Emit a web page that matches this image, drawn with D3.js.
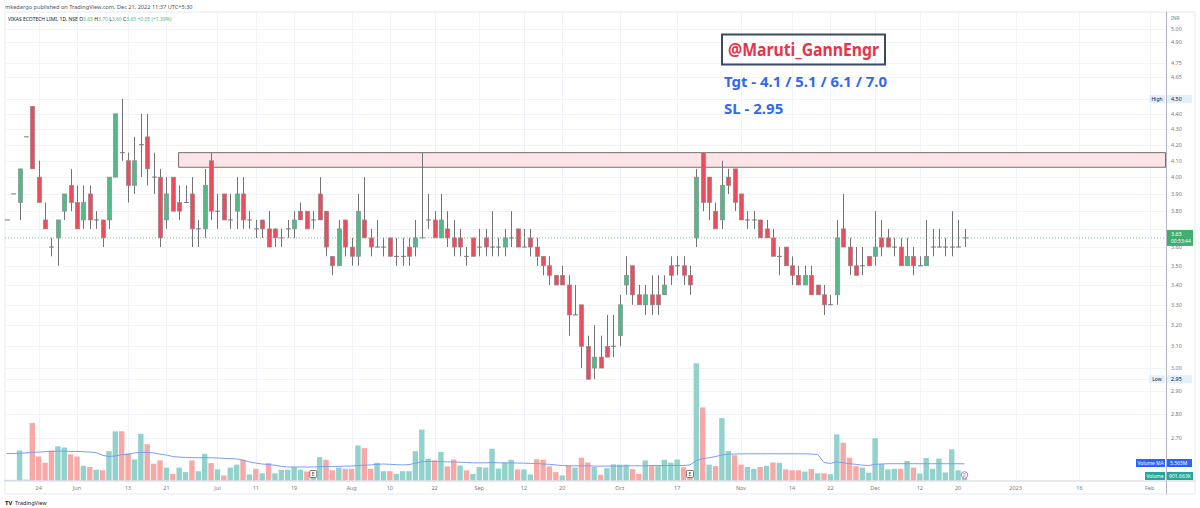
<!DOCTYPE html>
<html>
<head>
<meta charset="utf-8">
<script src="https://cdn.jsdelivr.net/npm/d3@7"></script>
<style>
  body { margin: 0; background: #fff; }
  svg { display: block; font-family: "Noto Sans", "DejaVu Sans", sans-serif; }
</style>
</head>
<body>
<svg id="chart" width="1200" height="508"></svg>
<script>
// ---- data (daily bars, NSE, 17 May 2022 .. 21 Dec 2022) ----
const opens = [3.75,3.90,3.85,4.25,4.45,4.00,3.75,3.60,3.65,3.80, 3.95,3.85,3.75,3.90,3.75,3.75,3.75,4.00,4.15,4.10,
  3.95,4.20,4.25,4.00,4.00,3.75,4.00,3.85,3.85,3.90, 3.70,3.70,4.10,3.80,3.90,3.75,3.80,3.90,3.75,3.70,
  3.75,3.70,3.70,3.65,3.70,3.70,3.80,3.80,3.75,3.90, 3.80,3.55,3.50,3.75,3.60,3.55,3.75,3.65,3.60,3.60,
  3.65,3.55,3.55,3.60,3.60,3.65,3.75,3.75,3.65,3.70, 3.65,3.65,3.55,3.65,3.60,3.65,3.60,3.60,3.60,3.65,
  3.70,3.60,3.65,3.60,3.55,3.50,3.45,3.45,3.40,3.25, 3.30,3.10,3.00,3.05,3.10,3.10,3.15,3.40,3.50,3.35,
  3.30,3.35,3.35,3.35,3.50,3.50,3.50,3.45,3.65,4.15, 4.00,3.80,3.75,4.00,4.05,3.90,3.75,3.75,3.75,3.70,
  3.65,3.55,3.60,3.50,3.45,3.40,3.45,3.40,3.35,3.30, 3.35,3.70,3.60,3.50,3.50,3.55,3.55,3.65,3.65,3.60,
  3.60,3.50,3.55,3.50,3.50,3.60,3.60,3.60,3.60,3.60, 3.65];
const highs = [3.75,3.90,4.05,4.25,4.45,4.10,3.85,3.65,3.75,3.90, 4.05,3.95,3.95,3.95,3.80,3.75,4.00,4.40,4.50,4.15,
  4.25,4.40,4.40,4.15,4.05,4.00,4.00,3.95,3.95,4.00, 3.75,4.05,4.15,3.90,3.90,3.90,4.00,4.00,3.80,3.75,
  3.75,3.80,3.70,3.70,3.75,3.80,3.85,3.80,3.80,4.00, 3.80,3.55,3.75,3.75,3.65,3.90,4.00,3.70,3.75,3.65,
  3.65,3.65,3.65,3.65,3.75,4.15,3.90,3.80,3.90,3.80, 3.75,3.70,3.60,3.65,3.70,3.70,3.80,3.65,3.70,3.80,
  3.70,3.70,3.70,3.65,3.55,3.55,3.45,3.50,3.45,3.40, 3.30,3.15,3.20,3.15,3.25,3.25,3.35,3.55,3.50,3.40,
  3.40,3.45,3.45,3.45,3.55,3.55,3.55,3.50,4.05,4.15, 4.00,3.85,4.10,4.05,4.05,3.90,3.80,3.80,3.75,3.75,
  3.70,3.60,3.60,3.55,3.50,3.50,3.50,3.40,3.40,3.35, 3.75,3.90,3.65,3.60,3.60,3.55,3.80,3.75,3.70,3.65,
  3.65,3.65,3.60,3.55,3.75,3.70,3.70,3.65,3.80,3.75, 3.70];
const lows = [3.75,3.90,3.75,4.25,4.05,3.85,3.70,3.55,3.50,3.75, 3.80,3.70,3.70,3.70,3.70,3.60,3.70,4.00,4.10,3.85,
  3.90,4.00,3.95,3.90,3.60,3.70,3.80,3.75,3.85,3.60, 3.60,3.65,3.75,3.70,3.75,3.70,3.70,3.70,3.70,3.65,
  3.65,3.60,3.60,3.60,3.65,3.65,3.75,3.70,3.70,3.75, 3.55,3.45,3.50,3.55,3.50,3.50,3.65,3.55,3.60,3.55,
  3.55,3.50,3.50,3.50,3.55,3.65,3.70,3.65,3.65,3.60, 3.55,3.55,3.50,3.55,3.55,3.55,3.55,3.55,3.55,3.60,
  3.60,3.60,3.55,3.50,3.45,3.40,3.40,3.40,3.15,3.25, 3.00,2.95,2.95,3.00,3.05,3.05,3.10,3.35,3.30,3.30,
  3.25,3.25,3.25,3.35,3.40,3.45,3.40,3.35,3.60,3.80, 3.75,3.70,3.70,3.90,3.80,3.75,3.70,3.70,3.65,3.65,
  3.55,3.45,3.50,3.40,3.40,3.40,3.35,3.35,3.25,3.30, 3.30,3.60,3.45,3.45,3.45,3.50,3.50,3.55,3.60,3.55,
  3.50,3.50,3.45,3.50,3.50,3.55,3.60,3.55,3.55,3.60, 3.60];
const closes = [3.75,3.90,4.05,4.25,4.05,3.85,3.70,3.60,3.75,3.90, 3.85,3.70,3.85,3.75,3.75,3.65,4.00,4.40,4.15,3.95,
  4.10,4.20,4.05,4.00,3.65,3.90,3.80,3.80,3.85,3.70, 3.70,3.95,3.80,3.80,3.75,3.75,3.90,3.75,3.75,3.70,
  3.70,3.60,3.65,3.65,3.70,3.75,3.75,3.70,3.75,3.75, 3.60,3.50,3.70,3.60,3.55,3.80,3.65,3.60,3.60,3.60,
  3.55,3.55,3.55,3.55,3.65,3.65,3.75,3.65,3.75,3.65, 3.60,3.60,3.55,3.55,3.60,3.60,3.60,3.60,3.65,3.65,
  3.60,3.60,3.60,3.55,3.50,3.45,3.40,3.40,3.25,3.25, 3.10,2.95,3.05,3.00,3.05,3.10,3.30,3.45,3.35,3.30,
  3.35,3.30,3.30,3.40,3.45,3.50,3.45,3.40,4.00,3.85, 3.85,3.70,3.95,3.95,3.85,3.75,3.75,3.75,3.65,3.65,
  3.55,3.55,3.50,3.45,3.40,3.45,3.35,3.35,3.30,3.30, 3.65,3.60,3.50,3.45,3.50,3.50,3.60,3.60,3.60,3.60,
  3.50,3.55,3.50,3.50,3.55,3.60,3.60,3.60,3.60,3.60, 3.65];
// volume in millions of shares
const volumes = [0.2,0.2,10.0,0.3,19.2,8.0,5.9,10.0,11.4,11.0, 8.7,8.0,4.9,4.5,3.6,3.4,9.8,16.4,16.4,9.1,
  7.0,15.6,12.1,5.6,6.7,4.3,2.2,4.3,2.8,6.7, 3.1,8.9,5.8,3.7,1.7,4.3,5.3,6.9,2.0,3.9,
  2.4,5.8,2.4,3.6,3.6,4.5,3.6,3.0,2.7,7.8, 6.9,3.4,4.3,3.9,3.9,11.7,10.8,3.9,5.9,3.1,
  3.1,2.2,3.1,3.1,9.8,17.0,7.3,6.7,9.5,4.7, 7.0,5.0,3.4,2.2,4.5,4.3,10.6,4.0,5.9,6.9,
  3.7,3.7,2.0,7.1,6.9,4.7,2.8,1.7,5.0,4.3, 7.6,6.0,4.5,1.9,4.1,5.4,5.3,5.3,3.8,2.2,
  6.7,4.9,4.8,6.9,5.9,7.0,4.4,3.0,39.1,24.4, 5.3,4.8,20.8,9.8,8.4,5.3,4.5,3.9,4.5,4.9,
  6.0,5.9,3.7,3.4,3.4,3.0,3.8,2.4,2.4,2.1, 15.4,12.6,7.6,4.8,4.3,2.6,14.1,5.6,3.7,3.9,
  3.9,6.5,4.3,2.3,7.5,3.9,7.3,2.7,10.4,3.4, 0.9];
const volumeMA = [9.0,9.0,9.1,9.2,9.4,9.5,9.6,9.7,9.8,9.8, 9.7,9.7,9.6,9.5,9.3,8.4,8.0,8.2,8.6,8.7,
  9.2,9.4,9.4,9.2,8.8,8.5,8.0,7.8,7.7,7.6, 7.6,7.6,7.6,7.5,7.4,7.3,7.2,6.8,6.2,5.8,
  5.5,5.3,5.1,4.7,4.5,4.5,4.5,4.5,4.5,4.6, 4.7,4.7,4.7,4.8,4.8,5.0,5.1,5.2,5.4,5.5,
  5.4,5.3,5.2,5.3,5.8,6.2,6.4,6.4,6.3,6.2, 6.2,6.1,6.0,5.9,5.9,5.9,6.0,5.9,5.9,5.9,
  5.8,5.8,5.7,5.7,5.5,5.4,5.2,5.0,4.9,4.9, 4.9,4.9,4.8,4.8,4.8,4.8,4.8,4.9,4.9,4.9,
  4.9,5.0,5.0,5.0,5.0,5.0,5.0,5.2,6.6,7.3, 7.6,8.0,8.5,8.8,8.8,8.9,8.9,8.9,8.9,8.9,
  8.9,8.9,8.9,8.9,8.9,8.9,8.8,8.7,6.0,5.7, 6.2,5.9,5.6,5.4,5.1,5.0,5.4,5.5,5.6,5.6,
  5.6,5.6,5.6,5.6,5.6,5.6,5.6,5.6,5.6,5.6, 5.565];

const priceTicks = [5.00, 4.90, 4.75, 4.65, 4.40, 4.30, 4.20, 4.10, 4.00, 3.90, 3.80, 3.60,
  3.50, 3.40, 3.30, 3.20, 3.10, 3.00, 2.90, 2.80, 2.70];
const timeTickIndex = [5, 11, 19, 25, 33, 39, 45, 54, 60, 67, 74, 81, 87, 96, 105, 115, 123, 129, 136, 143, 149, 158, 168, 179];
const timeTickLabels = ["24", "Jun", "13", "21", "Jul", "11", "19", "Aug", "10", "22", "Sep", "12", "20",
  "Oct", "17", "Nov", "14", "22", "Dec", "12", "20", "2023", "16", "Feb"];
const zone = { startIndex: 27, top: 4.15, bottom: 4.06 };
const earningsIndex = [48, 107];
const highValue = 4.50, lowValue = 2.95;

// ---- layout ----
const plotLeft = 5, plotRight = 1166, plotTop = 12, volBase = 480.5, axisBottom = 494;

const svg = d3.select("#chart");

const x = d3.scaleLinear().domain([0, 150]).range([6.77, 964.5]);
const y = d3.scaleLog().domain([2.7, 5.0]).range([438, 29]);
const yv = d3.scaleLinear().domain([0, 39.1]).range([volBase, 363.3]);

const upColor = "#53b987", downColor = "#eb4d5c", wickColor = "#737375";
const volUp = "#92d2cc", volDown = "#f7a9a7";

// header
svg.append("text").attr("x", 5).attr("y", 9)
  .attr("font-size", 5.6).attr("fill", "#50535e")
  .text("mkedargo published on TradingView.com, Dec 21, 2022 11:37 UTC+5:30");

// frame
svg.append("rect").attr("x", plotLeft).attr("y", plotTop)
  .attr("width", 1195 - plotLeft).attr("height", axisBottom - plotTop)
  .attr("fill", "#fff").attr("stroke", "#e0e3eb").attr("stroke-width", 0.8);

// grid
const grid = svg.append("g");
grid.selectAll("line.h").data(priceTicks.concat([highValue, 3.70, lowValue]))
  .join("line")
  .attr("x1", plotLeft).attr("x2", plotRight)
  .attr("y1", d => Math.round(y(d)) + 0.5).attr("y2", d => Math.round(y(d)) + 0.5)
  .attr("stroke", "#f0f3fa").attr("stroke-width", 1);
grid.selectAll("line.v").data(timeTickIndex)
  .join("line")
  .attr("x1", d => Math.round(x(d)) + 0.5).attr("x2", d => Math.round(x(d)) + 0.5)
  .attr("y1", plotTop).attr("y2", volBase)
  .attr("stroke", "#f0f3fa").attr("stroke-width", 1);

// resistance zone
svg.append("rect")
  .attr("x", x(zone.startIndex) - 0.5).attr("y", y(zone.top))
  .attr("width", plotRight - x(zone.startIndex)).attr("height", y(zone.bottom) - y(zone.top))
  .attr("fill", "#fde4e6").attr("stroke", "#6b5e60").attr("stroke-width", 0.9);

// volume bars
const idx = d3.range(closes.length);
svg.append("g").selectAll("rect").data(idx).join("rect")
  .attr("x", i => x(i) - 2.7).attr("width", 5.4)
  .attr("y", i => yv(volumes[i])).attr("height", i => volBase - yv(volumes[i]))
  .attr("fill", i => (i === 0 || closes[i] >= closes[i - 1]) ? volUp : volDown);

// volume MA
svg.append("path").datum(idx)
  .attr("d", d3.line().x(i => x(i)).y(i => yv(volumeMA[i])))
  .attr("fill", "none").attr("stroke", "#7a9ef5").attr("stroke-width", 1);

// candles
const candles = svg.append("g");
candles.selectAll("line.wick").data(idx).join("line")
  .attr("x1", i => Math.round(x(i)) + 0.5).attr("x2", i => Math.round(x(i)) + 0.5)
  .attr("y1", i => y(highs[i])).attr("y2", i => y(lows[i]))
  .attr("stroke", wickColor).attr("stroke-width", 1);
candles.selectAll("rect.body").data(idx.filter(i => opens[i] !== closes[i])).join("rect")
  .attr("x", i => Math.round(x(i)) + 0.5 - 2.2).attr("width", 4.4)
  .attr("y", i => y(Math.max(opens[i], closes[i])))
  .attr("height", i => Math.abs(y(opens[i]) - y(closes[i])))
  .attr("fill", i => closes[i] > opens[i] ? upColor : downColor)
  .attr("stroke", "#8c8c8f").attr("stroke-width", 0.6);
candles.selectAll("line.doji").data(idx.filter(i => opens[i] === closes[i])).join("line")
  .attr("x1", i => Math.round(x(i)) + 0.5 - 2.4).attr("x2", i => Math.round(x(i)) + 0.5 + 2.4)
  .attr("y1", i => y(closes[i])).attr("y2", i => y(closes[i]))
  .attr("stroke", wickColor).attr("stroke-width", 1);

// last price line
const last = closes[closes.length - 1];
svg.append("line").attr("x1", plotLeft).attr("x2", plotRight)
  .attr("y1", y(last)).attr("y2", y(last))
  .attr("stroke", "#53b987").attr("stroke-width", 0.8).attr("stroke-dasharray", "1,2");

// earnings markers
earningsIndex.forEach(i => {
  const g = svg.append("g").attr("transform", `translate(${x(i)},474)`);
  g.append("rect").attr("x", -3.5).attr("y", -3.5).attr("width", 7).attr("height", 7)
    .attr("fill", "#fff").attr("stroke", "#555").attr("stroke-width", 0.8).attr("rx", 1);
  g.append("text").attr("text-anchor", "middle").attr("y", 2).attr("font-size", 5).attr("fill", "#333").text("E");
});
// dividend marker on last bar
svg.append("circle").attr("cx", x(150)).attr("cy", 475).attr("r", 3.3)
  .attr("fill", "#fff").attr("stroke", "#ba68c8").attr("stroke-width", 0.9);
svg.append("text").attr("x", x(150)).attr("y", 477).attr("text-anchor", "middle")
  .attr("font-size", 4.5).attr("fill", "#ba68c8").text("D");

// annotations
svg.append("rect").attr("x", 722).attr("y", 34.5).attr("width", 163).attr("height", 30)
  .attr("fill", "none").attr("stroke", "#3a4b63").attr("stroke-width", 2);
svg.append("text").attr("x", 728).attr("y", 55.5)
  .attr("font-size", 17.5).attr("font-weight", "bold").attr("fill", "#e8334a")
  .attr("textLength", 151).attr("lengthAdjust", "spacingAndGlyphs")
  .text("@Maruti_GannEngr");
svg.append("text").attr("x", 724).attr("y", 87)
  .attr("font-size", 15).attr("font-weight", "bold").attr("fill", "#2f6bf0")
  .attr("textLength", 163).attr("lengthAdjust", "spacingAndGlyphs")
  .text("Tgt - 4.1 / 5.1 / 6.1 / 7.0");
svg.append("text").attr("x", 724).attr("y", 114)
  .attr("font-size", 15).attr("font-weight", "bold").attr("fill", "#2f6bf0")
  .text("SL - 2.95");

// legend
const legend = svg.append("text").attr("x", 8).attr("y", 20.5).attr("font-size", 5).attr("fill", "#131722");
legend.append("tspan").text("VIKAS ECOTECH LIMI, 1D, NSE  ");
[["O", "3.65"], ["H", "3.70"], ["L", "3.60"], ["C", "3.65"]].forEach(([k, v]) => {
  legend.append("tspan").text(" " + k);
  legend.append("tspan").attr("fill", "#53b987").text(v);
});
legend.append("tspan").attr("fill", "#53b987").text("  +0.05 (+1.39%)");

// price axis
svg.append("line").attr("x1", plotRight + 0.5).attr("x2", plotRight + 0.5)
  .attr("y1", plotTop).attr("y2", axisBottom).attr("stroke", "#b2b5be").attr("stroke-width", 1);
svg.append("text").attr("x", 1171).attr("y", 20).attr("font-size", 5).attr("fill", "#787b86").text("INR");
svg.append("g").selectAll("text").data(priceTicks).join("text")
  .attr("x", 1171).attr("y", d => y(d) + 2)
  .attr("font-size", 5.5).attr("fill", "#787b86")
  .text(d => d.toFixed(2));

// High / Low labels
[[highValue, "High"], [lowValue, "Low"]].forEach(([v, name]) => {
  svg.append("rect").attr("x", 1167).attr("y", y(v) - 4).attr("width", 25).attr("height", 8).attr("fill", "#e3effd");
  svg.append("text").attr("x", 1171).attr("y", y(v) + 2).attr("font-size", 5.5).attr("fill", "#131722").text(v.toFixed(2));
  svg.append("rect").attr("x", 1149).attr("y", y(v) - 4).attr("width", 16).attr("height", 8).attr("fill", "#e3effd");
  svg.append("text").attr("x", 1157).attr("y", y(v) + 2).attr("text-anchor", "middle").attr("font-size", 5).attr("fill", "#131722").text(name);
});

// last price label
svg.append("rect").attr("x", 1167).attr("y", y(last) - 8).attr("width", 26).attr("height", 16).attr("fill", "#3fae6e");
svg.append("text").attr("x", 1171).attr("y", y(last) - 1.5).attr("font-size", 5.5).attr("fill", "#fff").text(last.toFixed(2));
svg.append("text").attr("x", 1171).attr("y", y(last) + 5.5).attr("font-size", 5).attr("fill", "#fff").text("00:53:44");

// volume labels
const vma = volumeMA[volumeMA.length - 1];
svg.append("rect").attr("x", 1136).attr("y", 459).attr("width", 29).attr("height", 8).attr("fill", "#2962ff");
svg.append("text").attr("x", 1150.5).attr("y", 465).attr("text-anchor", "middle").attr("font-size", 5).attr("fill", "#fff")
  .attr("textLength", 26).attr("lengthAdjust", "spacingAndGlyphs").text("Volume MA");
svg.append("rect").attr("x", 1167).attr("y", 459).attr("width", 25).attr("height", 8).attr("fill", "#2962ff");
svg.append("text").attr("x", 1170).attr("y", 465).attr("font-size", 5).attr("fill", "#fff").text(vma.toFixed(3) + "M");
svg.append("rect").attr("x", 1145).attr("y", 472).attr("width", 20).attr("height", 8).attr("fill", "#26a69a");
svg.append("text").attr("x", 1155).attr("y", 478).attr("text-anchor", "middle").attr("font-size", 5).attr("fill", "#fff")
  .attr("textLength", 17).attr("lengthAdjust", "spacingAndGlyphs").text("Volume");
svg.append("rect").attr("x", 1167).attr("y", 472).attr("width", 26).attr("height", 8).attr("fill", "#26a69a");
svg.append("text").attr("x", 1169).attr("y", 478).attr("font-size", 5).attr("fill", "#fff")
  .attr("textLength", 22).attr("lengthAdjust", "spacingAndGlyphs").text("901.663K");

// time axis
svg.append("line").attr("x1", plotLeft).attr("x2", 1195)
  .attr("y1", volBase + 0.5).attr("y2", volBase + 0.5).attr("stroke", "#d1d4dc").attr("stroke-width", 1);
svg.append("g").selectAll("text").data(timeTickIndex).join("text")
  .attr("x", d => x(d)).attr("y", 489.5).attr("text-anchor", "middle")
  .attr("font-size", 5.5).attr("fill", "#787b86")
  .text((d, i) => timeTickLabels[i]);

// footer logo
svg.append("text").attr("x", 5).attr("y", 504.5).attr("font-size", 6).attr("font-weight", "bold").attr("fill", "#131722").text("TV");
svg.append("text").attr("x", 15).attr("y", 504.5).attr("font-size", 5.5).attr("fill", "#131722").text("TradingView");
</script>
</body>
</html>
